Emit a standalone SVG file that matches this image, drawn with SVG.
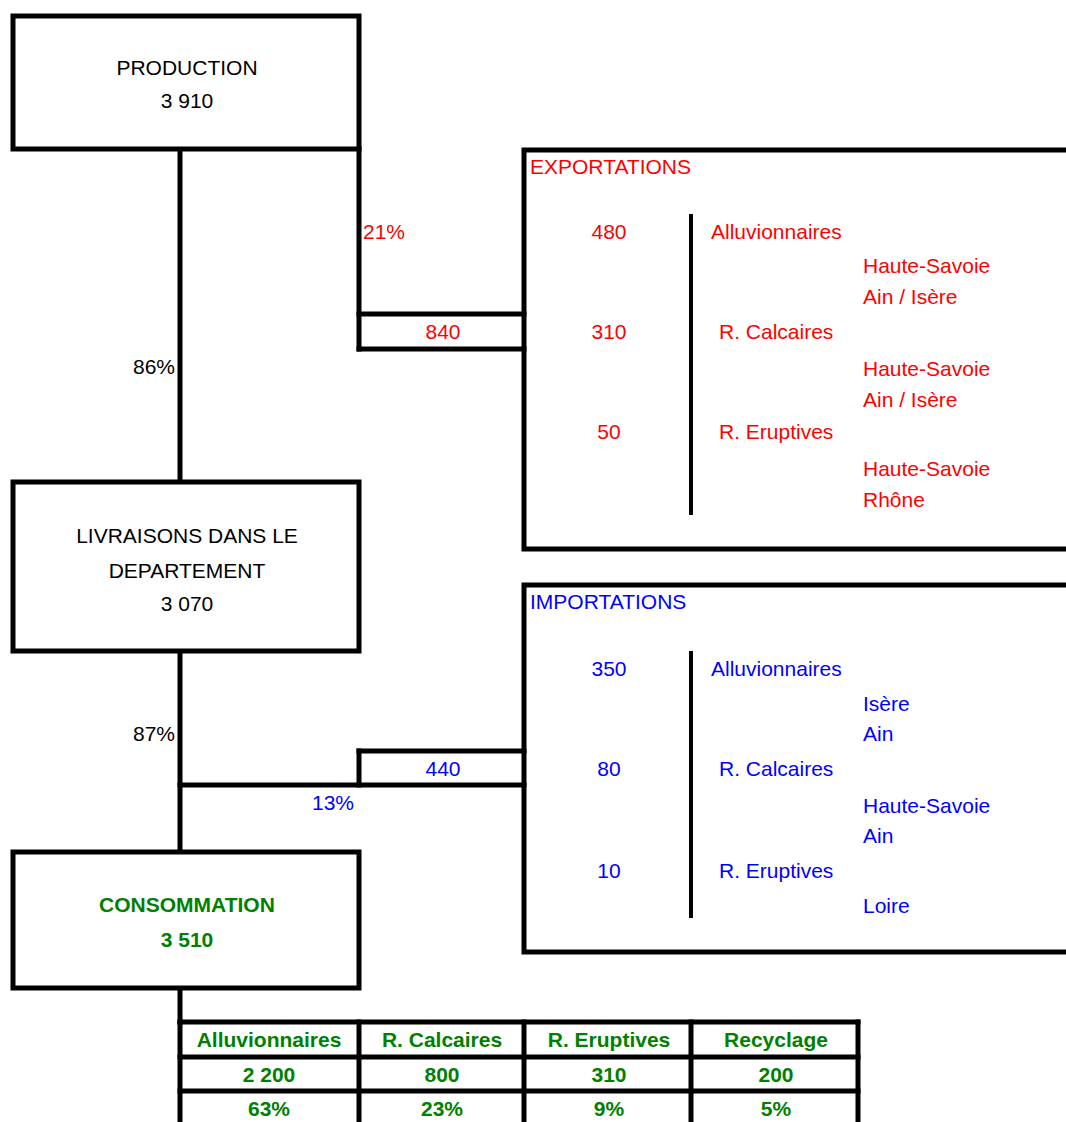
<svg xmlns="http://www.w3.org/2000/svg" width="1066" height="1122" viewBox="0 0 1066 1122">
<style>
.box{fill:#fff;stroke:#000;stroke-width:5}
.ln{stroke:#000;stroke-width:5;fill:none;stroke-linecap:square}
.thin{stroke:#000;stroke-width:4;fill:none}
text{font-family:"Liberation Sans",Arial,sans-serif;font-size:21px}
.c{text-anchor:middle}
.e{text-anchor:end}
.k{fill:#000}
.r{fill:#ff0000}
.b{fill:#0000ff}
.g{fill:#008000;font-weight:bold}
</style>
<rect width="1066" height="1122" fill="#fff"/>
<g id="connectors">
<line class="ln" x1="180" y1="149" x2="180" y2="482"/>
<line class="ln" x1="359" y1="149" x2="359" y2="349"/>
<line class="ln" x1="359" y1="314" x2="524" y2="314"/>
<line class="ln" x1="359" y1="349" x2="524" y2="349"/>
<text class="r" x="363" y="239">21%</text>
<text class="r c" x="443" y="339">840</text>
<text class="k e" x="175" y="374">86%</text>
<line class="ln" x1="180" y1="651" x2="180" y2="852"/>
<line class="ln" x1="180" y1="785" x2="524" y2="785"/>
<line class="ln" x1="359" y1="751" x2="359" y2="785"/>
<line class="ln" x1="359" y1="751" x2="524" y2="751"/>
<text class="k e" x="175" y="741">87%</text>
<text class="b c" x="443" y="776">440</text>
<text class="b c" x="333" y="810">13%</text>
<line class="ln" x1="180" y1="988" x2="180" y2="1022"/>
</g>
<g id="production">
<rect class="box" x="13" y="16" width="346" height="133"/>
<text class="k c" x="187" y="75">PRODUCTION</text>
<text class="k c" x="187" y="108">3 910</text>
</g>
<g id="exportations">
<path class="ln" d="M1070,150 H524 V549 H1070"/>
<line class="thin" x1="691" y1="214" x2="691" y2="515"/>
<text class="r" x="530" y="174">EXPORTATIONS</text>
<text class="r c" x="609" y="239">480</text>
<text class="r" x="711" y="239">Alluvionnaires</text>
<text class="r" x="863" y="273">Haute-Savoie</text>
<text class="r" x="863" y="304">Ain / Isère</text>
<text class="r c" x="609" y="339">310</text>
<text class="r" x="719" y="339">R. Calcaires</text>
<text class="r" x="863" y="376">Haute-Savoie</text>
<text class="r" x="863" y="407">Ain / Isère</text>
<text class="r c" x="609" y="439">50</text>
<text class="r" x="719" y="439">R. Eruptives</text>
<text class="r" x="863" y="476">Haute-Savoie</text>
<text class="r" x="863" y="507">Rhône</text>
</g>
<g id="livraisons">
<rect class="box" x="13" y="482" width="346" height="169"/>
<text class="k c" x="187" y="543">LIVRAISONS DANS LE</text>
<text class="k c" x="187" y="578">DEPARTEMENT</text>
<text class="k c" x="187" y="611">3 070</text>
</g>
<g id="importations">
<path class="ln" d="M1070,585 H524 V952 H1070"/>
<line class="thin" x1="691" y1="651" x2="691" y2="918"/>
<text class="b" x="530" y="609">IMPORTATIONS</text>
<text class="b c" x="609" y="676">350</text>
<text class="b" x="711" y="676">Alluvionnaires</text>
<text class="b" x="863" y="711">Isère</text>
<text class="b" x="863" y="741">Ain</text>
<text class="b c" x="609" y="776">80</text>
<text class="b" x="719" y="776">R. Calcaires</text>
<text class="b" x="863" y="813">Haute-Savoie</text>
<text class="b" x="863" y="843">Ain</text>
<text class="b c" x="609" y="878">10</text>
<text class="b" x="719" y="878">R. Eruptives</text>
<text class="b" x="863" y="913">Loire</text>
</g>
<g id="consommation">
<rect class="box" x="13" y="852" width="346" height="136"/>
<text class="g c" x="187" y="912">CONSOMMATION</text>
<text class="g c" x="187" y="947">3 510</text>
</g>
<g id="table">
<line class="ln" x1="180" y1="1022" x2="858" y2="1022"/>
<line class="ln" x1="180" y1="1057" x2="858" y2="1057"/>
<line class="ln" x1="180" y1="1091" x2="858" y2="1091"/>
<line class="ln" x1="180" y1="1022" x2="180" y2="1126"/>
<line class="ln" x1="359" y1="1022" x2="359" y2="1126"/>
<line class="ln" x1="524" y1="1022" x2="524" y2="1126"/>
<line class="ln" x1="691" y1="1022" x2="691" y2="1126"/>
<line class="ln" x1="858" y1="1022" x2="858" y2="1126"/>
<text class="g c" x="269" y="1047">Alluvionnaires</text>
<text class="g c" x="442" y="1047">R. Calcaires</text>
<text class="g c" x="609" y="1047">R. Eruptives</text>
<text class="g c" x="776" y="1047">Recyclage</text>
<text class="g c" x="269" y="1082">2 200</text>
<text class="g c" x="442" y="1082">800</text>
<text class="g c" x="609" y="1082">310</text>
<text class="g c" x="776" y="1082">200</text>
<text class="g c" x="269" y="1116">63%</text>
<text class="g c" x="442" y="1116">23%</text>
<text class="g c" x="609" y="1116">9%</text>
<text class="g c" x="776" y="1116">5%</text>
</g>
</svg>
